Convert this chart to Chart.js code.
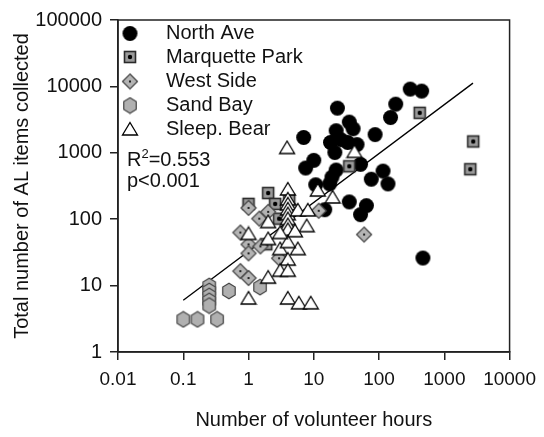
<!DOCTYPE html>
<html>
<head>
<meta charset="utf-8">
<script src="https://cdn.jsdelivr.net/npm/chart.js@4"></script>
<style>
  html, body { margin: 0; padding: 0; background: #fff; }
</style>
</head>
<body>
<canvas id="chart" width="544" height="437"></canvas>
<script>
// volunteer hours (x) vs AL items collected (y), one pair of arrays per site
const northAveX = [300, 450, 180, 150, 23, 35, 40, 7, 87, 22, 18, 26, 33, 46, 21, 10, 7.5, 52, 22, 19, 17.5, 10.7, 76, 115, 137, 35, 64, 52, 14.7, 470];
const northAveY = [9100, 8500, 5400, 3400, 4700, 2900, 2300, 1700, 1880, 2150, 1430, 1580, 1430, 1330, 1010, 770, 590, 670, 550, 430, 340, 330, 400, 530, 340, 182, 160, 117, 139, 26];

const marquetteX = [420, 2770, 2500, 35, 2.0, 2.56, 1.0, 2.94, 4.2, 1.87];
const marquetteY = [4000, 1480, 566, 627, 248, 170, 170, 102, 195, 42];

const westSideX = [1.0, 0.75, 1.46, 2.0, 1.0, 1.52, 1.0, 0.75, 1.0, 2.94, 4.8, 11.9, 59];
const westSideY = [148, 63, 102, 129, 41.7, 38.9, 30.6, 16.5, 13.0, 25.8, 143, 134, 58.7];

const sandBayX = [0.25, 0.25, 0.25, 0.25, 0.25, 0.1, 0.165, 0.33, 0.5, 1.5];
const sandBayY = [9.9, 8.3, 7.0, 5.9, 5.0, 3.1, 3.1, 3.1, 8.3, 9.5];

const sleepBearX = [3.9, 42, 11.5, 19.4, 4.0, 4.0, 4.0, 4.0, 4.0, 4.0, 4.0, 4.0, 2.0, 5.7, 8.1, 7.8, 5.7, 1.0, 2.0, 3.05, 4.0, 4.0, 2.0, 3.05, 4.0, 1.0, 4.0, 5.9, 9.0, 3.05, 5.15];
const sleepBearY = [1200, 1050, 275, 216, 285, 202, 170, 143, 121, 102, 83, 70, 92, 138, 138, 80, 36, 61, 51, 36, 46, 25, 13.4, 17, 17, 6.5, 6.5, 5.5, 5.5, 63, 67];

// fitted regression line end points
const fitX = [0.1, 2750];
const fitY = [6, 11200];

const xTicks = [0.01, 0.1, 1, 10, 100, 1000, 10000];
const yTicks = [1, 10, 100, 1000, 10000, 100000];

const pts = (xs, ys) => xs.map((x, i) => ({ x: x, y: ys[i] }));

Chart.defaults.font.family = '"Liberation Sans", Arial, sans-serif';
Chart.defaults.color = '#111';

// small canvases used as point styles
function marker(w, h, draw) {
  const c = document.createElement('canvas');
  c.width = w;
  c.height = h;
  draw(c.getContext('2d'));
  return c;
}

const circleMark = marker(17, 17, g => {
  g.beginPath();
  g.arc(8.5, 8.5, 7.5, 0, Math.PI * 2);
  g.fillStyle = '#000';
  g.fill();
});

const squareMark = marker(16, 16, g => {
  g.fillStyle = '#9a9a9a';
  g.fillRect(2, 2, 12, 12);
  g.strokeStyle = '#2a2a2a';
  g.lineWidth = 1.6;
  g.strokeRect(2.5, 2.5, 11, 11);
  g.beginPath();
  g.arc(8, 8, 2.2, 0, Math.PI * 2);
  g.fillStyle = '#000';
  g.fill();
});

const diamondMark = marker(18, 18, g => {
  g.beginPath();
  g.moveTo(9, 1.5);
  g.lineTo(16.5, 9);
  g.lineTo(9, 16.5);
  g.lineTo(1.5, 9);
  g.closePath();
  g.fillStyle = '#b4b4b4';
  g.fill();
  g.strokeStyle = '#444';
  g.lineWidth = 1.2;
  g.stroke();
  g.beginPath();
  g.arc(9, 9, 1.1, 0, Math.PI * 2);
  g.fillStyle = '#000';
  g.fill();
});

const hexMark = marker(16, 18, g => {
  g.beginPath();
  for (let k = 0; k < 6; k++) {
    const a = Math.PI / 2 + k * Math.PI / 3;
    const px = 8 + 7.2 * Math.cos(a);
    const py = 9 - 7.8 * Math.sin(a);
    if (k === 0) g.moveTo(px, py); else g.lineTo(px, py);
  }
  g.closePath();
  g.fillStyle = '#b0b0b0';
  g.fill();
  g.strokeStyle = '#444';
  g.lineWidth = 1.2;
  g.stroke();
});

const triMark = marker(18, 16, g => {
  g.beginPath();
  g.moveTo(9, 1.5);
  g.lineTo(16.5, 14);
  g.lineTo(1.5, 14);
  g.closePath();
  g.fillStyle = '#fff';
  g.fill();
  g.strokeStyle = '#000';
  g.lineWidth = 1.3;
  g.stroke();
});

const series = [
  { label: 'North Ave', data: pts(northAveX, northAveY), pointStyle: circleMark, order: 5 },
  { label: 'Marquette Park', data: pts(marquetteX, marquetteY), pointStyle: squareMark, order: 4 },
  { label: 'West Side', data: pts(westSideX, westSideY), pointStyle: diamondMark, order: 3 },
  { label: 'Sand Bay', data: pts(sandBayX, sandBayY), pointStyle: hexMark, order: 2 },
  { label: 'Sleep. Bear', data: pts(sleepBearX, sleepBearY), pointStyle: triMark, order: 1 }
];

// box around the plot plus the in-plot legend and stats
const framePlugin = {
  id: 'frame',
  afterDraw(chart) {
    const { ctx, chartArea: a } = chart;
    ctx.save();
    ctx.strokeStyle = '#222';
    ctx.lineWidth = 1.5;
    ctx.strokeRect(a.left, a.top, a.right - a.left, a.bottom - a.top);

    const rows = [33.5, 57, 81.5, 105.5, 129];
    ctx.font = '20px "Liberation Sans", Arial, sans-serif';
    ctx.fillStyle = '#111';
    ctx.textBaseline = 'middle';
    series.forEach((s, i) => {
      const img = s.pointStyle;
      ctx.drawImage(img, 130 - img.width / 2, rows[i] - img.height / 2);
      ctx.fillText(s.label, 166, rows[i]);
    });

    ctx.textBaseline = 'alphabetic';
    ctx.fillText('R', 127, 166);
    const rw = ctx.measureText('R').width;
    ctx.font = '13px "Liberation Sans", Arial, sans-serif';
    ctx.fillText('2', 127 + rw, 158);
    const sw = ctx.measureText('2').width;
    ctx.font = '20px "Liberation Sans", Arial, sans-serif';
    ctx.fillText('=0.553', 127 + rw + sw, 166);
    ctx.fillText('p<0.001', 127, 187);
    ctx.restore();
  }
};

const axisColor = '#222';

new Chart(document.getElementById('chart'), {
  type: 'scatter',
  data: {
    datasets: [
      ...series.map(s => ({
        label: s.label,
        data: s.data,
        pointStyle: s.pointStyle,
        pointRadius: 7,
        order: s.order
      })),
      {
        label: 'fit',
        data: pts(fitX, fitY),
        showLine: true,
        pointRadius: 0,
        borderColor: '#000',
        borderWidth: 1.3,
        order: 10
      }
    ]
  },
  options: {
    responsive: false,
    animation: false,
    layout: { padding: { top: 16, right: 31, bottom: 0, left: 0 } },
    plugins: { legend: { display: false }, tooltip: { enabled: false } },
    scales: {
      x: {
        type: 'logarithmic',
        min: 0.01,
        max: 10000,
        afterBuildTicks: scale => { scale.ticks = xTicks.map(v => ({ value: v })); },
        afterFit: scale => { scale.height = 85; },
        ticks: {
          autoSkip: false,
          maxRotation: 0,
          padding: 8,
          font: { size: 19 },
          callback: v => String(v)
        },
        grid: { drawOnChartArea: false, drawTicks: true, tickLength: 8, color: axisColor, lineWidth: 1.5 },
        border: { color: axisColor, width: 1.5 },
        title: {
          display: true,
          text: 'Number of volunteer hours',
          font: { size: 20 },
          padding: { top: 0, bottom: 5 }
        }
      },
      y: {
        type: 'logarithmic',
        min: 1,
        max: 100000,
        afterBuildTicks: scale => { scale.ticks = yTicks.map(v => ({ value: v })); },
        afterFit: scale => { scale.width = 118; },
        ticks: {
          autoSkip: false,
          padding: 8,
          font: { size: 20 },
          callback: v => String(v)
        },
        grid: { drawOnChartArea: false, drawTicks: true, tickLength: 8, color: axisColor, lineWidth: 1.5 },
        border: { color: axisColor, width: 1.5 },
        title: {
          display: true,
          text: 'Total number of AL items collected',
          font: { size: 20 },
          padding: { top: 10, bottom: 0 }
        }
      }
    }
  },
  plugins: [framePlugin]
});
</script>
</body>
</html>
